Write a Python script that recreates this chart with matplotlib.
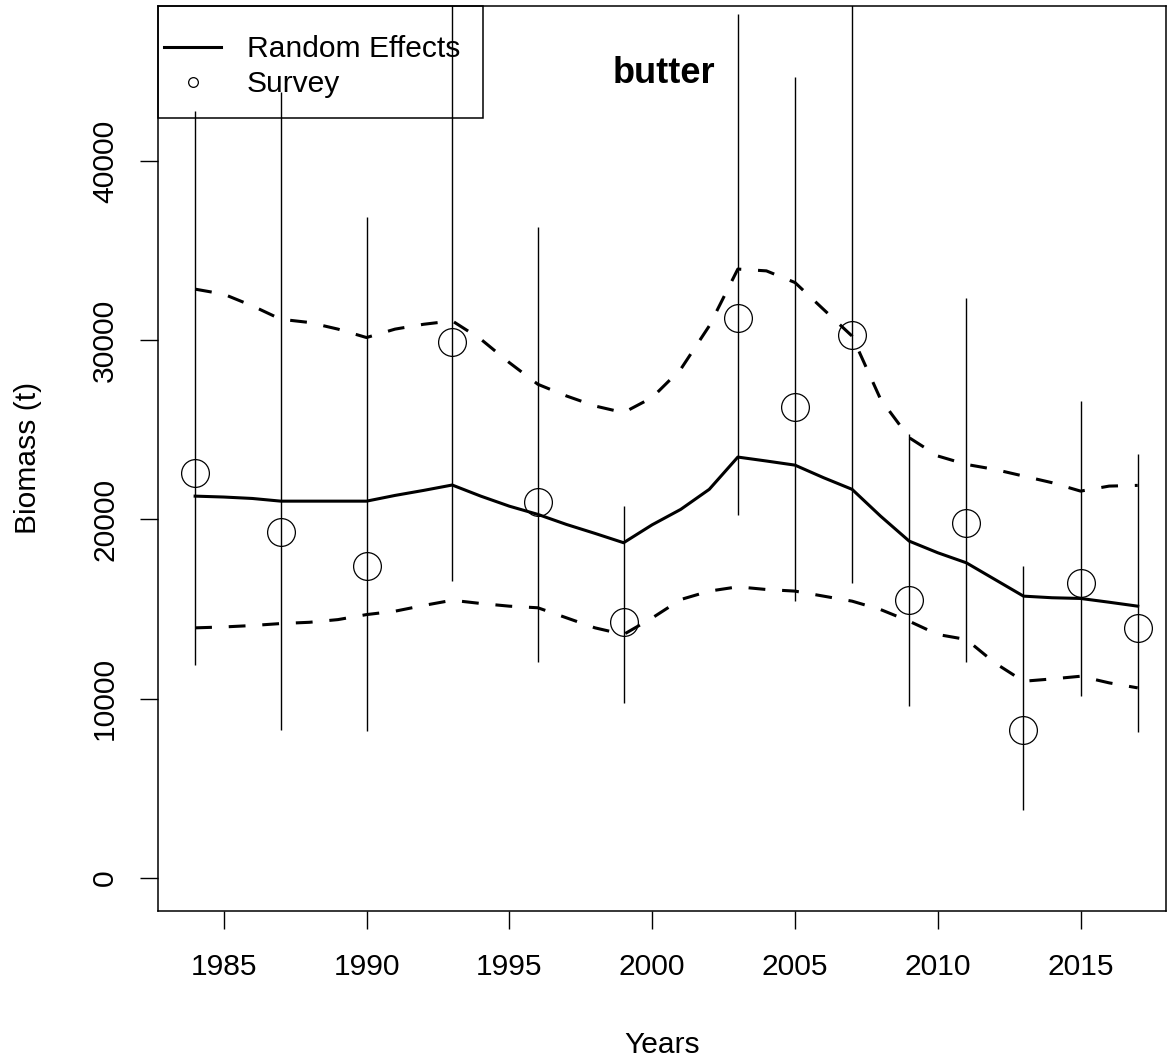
import matplotlib
matplotlib.use("Agg")
import matplotlib.pyplot as plt
from matplotlib.lines import Line2D
from matplotlib.patches import Rectangle

plt.rcParams['font.family'] = ['Liberation Sans', 'DejaVu Sans']

# model estimates (every year)
years = list(range(1984, 2018))
re_est = [21300, 21250, 21170, 21020, 21020, 21020, 21020, 21340, 21620, 21920,
          21300, 20740, 20280, 19720, 19220, 18700, 19700, 20560, 21680, 23480,
          23260, 23030, 22330, 21680, 20180, 18790, 18140, 17580, 16650, 15720,
          15630, 15590, 15380, 15160]
re_upper = [32850, 32570, 31920, 31170, 30990, 30620, 30150, 30620, 30890, 31080,
            30060, 28750, 27540, 26890, 26330, 25960, 26800, 28380, 30800, 33970,
            33870, 33220, 31720, 30230, 26700, 24560, 23540, 23070, 22790, 22420,
            22050, 21580, 21860, 21900]
re_lower = [13950, 14000, 14080, 14190, 14260, 14410, 14690, 14880, 15200, 15490,
            15310, 15160, 15070, 14510, 13950, 13580, 14500, 15530, 16000, 16240,
            16090, 16000, 15720, 15440, 14970, 14320, 13580, 13300, 11990, 10970,
            11100, 11250, 10880, 10600]

# survey index with intervals
survey_years = [1984, 1987, 1990, 1993, 1996, 1999, 2003, 2005, 2007, 2009, 2011, 2013, 2015, 2017]
survey = [22610, 19310, 17390, 29910, 20970, 14260, 31230, 26280, 30280, 15530, 19780, 8230, 16460, 13950]
survey_lo = [11900, 8270, 8210, 16560, 12030, 9780, 20220, 15440, 16460, 9570, 12030, 3800, 10130, 8120]
survey_hi = [42790, 43860, 36870, 52000, 36310, 20730, 48210, 44690, 51000, 24750, 32330, 17390, 26610, 23630]

W, H = 1168, 1061
fig = plt.figure(figsize=(W / 100, H / 100), dpi=100)
ax = fig.add_axes([158 / W, 1 - 911 / H, (1166 - 158) / W, (911 - 6) / H])

ax.vlines(survey_years, survey_lo, survey_hi, color='black', lw=1.0)
ax.plot(years, re_est, color='black', lw=2.2)
ax.plot(years, re_upper, color='black', lw=2.2, linestyle=(0, (5.5, 5.5)))
ax.plot(years, re_lower, color='black', lw=2.2, linestyle=(0, (5.5, 5.5)))
ax.plot(survey_years, survey, linestyle='none', marker='o', ms=20,
        mfc='none', mec='black', mew=0.9)

ax.set_xlim(1982.70, 2017.99)
ax.set_ylim(-1850, 48650)
ax.set_xticks([1985, 1990, 1995, 2000, 2005, 2010, 2015])
ax.set_yticks([0, 10000, 20000, 30000, 40000])
ax.tick_params(direction='out', length=13, width=1.0, labelsize=21.6, color='black')
ax.tick_params(axis='x', pad=17.5)
ax.tick_params(axis='y', pad=15)
plt.setp(ax.get_yticklabels(), rotation=90, va='center')
for s in ax.spines.values():
    s.set_linewidth(1.1)

# legend
handles = [Line2D([], [], color='black', lw=2.2),
           Line2D([], [], color='black', linestyle='none', marker='o', ms=7,
                  mfc='none', mew=0.9)]
ax.legend(handles, ['Random Effects', 'Survey'], loc='upper left',
          bbox_to_anchor=(6 / 1008, (905 - 29) / 905), frameon=False,
          borderpad=0, borderaxespad=0, handlelength=1.9, handletextpad=0.85,
          labelspacing=0.25, fontsize=21.6)
ax.add_patch(Rectangle((0, 1 - 112 / 905), 325 / 1008, 112 / 905,
                       transform=ax.transAxes, fill=False, lw=1.1,
                       edgecolor='black', clip_on=False))

fig.text(664 / W, 1 - 83 / H, 'butter', ha='center', va='baseline',
         fontsize=26, fontweight='bold')
fig.text(662 / W, 1 - 1053 / H, 'Years', ha='center', va='baseline', fontsize=21.6)
fig.text(28 / W, 1 - 458 / H, 'Biomass (t)', ha='center', va='center',
         rotation=90, fontsize=21.6)

fig.savefig('out.png', dpi=100)
